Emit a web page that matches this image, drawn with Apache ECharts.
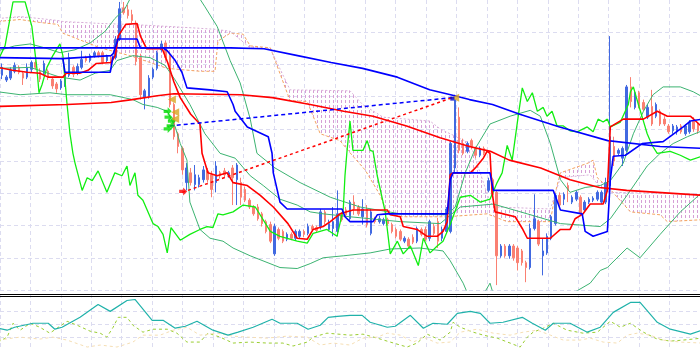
<!DOCTYPE html>
<html><head><meta charset="utf-8">
<script src="https://cdn.jsdelivr.net/npm/echarts@6/dist/echarts.min.js"></script>
<style>html,body{margin:0;padding:0;background:#fff}#c{width:700px;height:350px}</style>
</head><body><div id="c"></div><script>
// OHLC per bar: [open, close, lowest, highest]
const ohlc = [
[220,228,216,232],[215,218,213,220],[217,225,215,228],[224,230,222,233],[228,223,221,230],
[222,217,210,224],[218,228,216,232],[226,233,223,235],[233,228,226,235],[224,216,213,227],
[222,232,220,235],[224,218,215,226],[216,209,206,218],[211,206,202,213],[207,214,205,216],
[210,220,208,223],[220,238,218,243],[228,221,218,230],[222,229,220,232],[228,236,226,245],
[238,235,233,240],[235,240,233,242],[240,243,238,245],[243,240,238,245],[243,233,231,245],
[235,239,233,241],[238,232,230,240],[238,257,236,260],[257,288,255,295],[289,284,282,295],
[287,281,278,292],[282,276,273,287],[273,234,230,276],[238,200,195,242],[197,204,185,206],
[198,217,196,220],[218,226,216,228],[227,243,225,245],[246,252,244,255],[253,238,235,255],
[240,190,187,242],[190,157,154,192],[160,147,140,162],[145,123,118,147],[110,125,102,130],
[120,110,107,125],[108,118,102,128],[108,115,105,118],[113,123,110,127],[122,113,110,125],
[118,103,95,122],[110,127,100,132],[120,117,114,122],[122,118,115,125],[118,120,115,122],
[125,115,87,128],[113,128,87,130],[110,95,87,115],[103,92,90,106],[92,85,83,94],
[85,78,76,87],[85,73,71,88],[78,68,65,80],[70,60,58,72],[67,50,48,70],
[37,65,35,68],[62,53,51,64],[60,50,48,62],[52,57,50,59],[57,53,51,59],
[53,60,51,62],[55,60,53,62],[60,57,54,62],[58,65,56,68],[65,62,60,67],
[64,61,59,66],[65,80,62,83],[80,70,67,82],[62,68,60,72],[63,70,55,85],
[60,78,55,102],[78,72,70,80],[82,77,74,85],[73,90,71,92],[90,83,77,97],
[85,78,76,87],[75,83,67,93],[83,67,64,87],[58,80,56,83],[73,70,68,75],
[70,73,68,76],[68,72,66,74],[72,68,66,74],[67,60,58,69],[62,55,53,64],
[60,52,50,62],[50,53,48,55],[52,45,43,54],[54,49,47,57],[50,63,48,65],
[62,57,55,64],[62,52,50,65],[53,70,50,72],[65,58,56,68],[70,50,43,74],
[53,62,50,65],[60,83,58,85],[60,150,58,152],[125,195,120,200],[177,143,140,187],
[150,140,138,155],[142,150,140,152],[153,147,144,155],[145,138,135,147],[138,145,136,147],
[145,140,138,147],[102,112,100,115],[113,98,95,115],[100,35,5,102],[35,45,33,47],
[45,35,33,47],[35,45,32,47],[45,33,30,47],[43,28,20,45],[40,28,25,42],
[28,23,8,30],[23,63,21,68],[63,73,61,98],[70,47,45,72],[35,40,15,53],
[38,55,36,58],[53,75,51,77],[68,97,66,99],[97,87,85,100],[93,98,87,100],
[107,102,90,110],[90,95,88,97],[93,100,91,102],[95,78,76,97],[82,90,80,92],
[90,93,88,95],[92,94,90,96],[93,100,91,102],[90,100,88,102],[90,110,88,115],
[107,157,104,260],[147,132,127,157],[140,143,138,145],[135,145,127,147],[143,208,141,210],
[208,193,187,218],[187,202,185,204],[202,188,186,204],[192,185,183,195],[177,187,175,190],
[188,170,168,205],[178,190,176,192],[183,170,168,185],[175,170,168,178],[168,162,160,170],
[163,168,160,170],[162,167,159,169],[168,162,160,170],[160,168,158,170],[162,172,160,174],
[173,165,162,177],[170,163,160,172]
];
const bars = ohlc.map((d, i) => String(i));

// indicator lines: [bar index, value]
const maBlue = [[-1,248],[30.5,248],[54.5,248],[62.5,247],[70.5,240],[78.5,233],[86,227],[94.3,218],[102,205],[107,200],[111.5,195],[117,190],[123.5,180],[133,167],[144.5,153],[157,147],[167,145]];
const maRed = [[-1,188],[15.5,190],[26,192],[31,195],[37,199],[41,201],[57,200],[64.5,197],[73.5,190],[81.5,183],[88.5,178],[96.5,168],[104.5,156],[111.5,147],[116.5,142],[121,133],[128.5,125],[135.5,113],[142.5,105],[149,102],[167,97]];
const tenkan = [[-1,228],[2.5,225],[6,223],[9,222],[11,218],[14.5,218],[15.3,222],[18.5,222],[20.5,225],[22.5,232],[26,233],[27,240],[27.7,260],[29.5,272],[32.2,273],[33,260],[34.5,247],[38.2,247],[39.5,233],[41,213],[42.5,197],[45,180],[47.2,170],[47.7,140],[49.1,120],[51.3,117],[53.7,120],[55.1,110],[58.5,107],[61.6,97],[64.7,85],[68.2,68],[70.4,53],[72.8,52],[74.2,62],[76.6,65],[78.3,70],[80.6,78],[83.7,82],[91.9,82],[92.6,77],[95,75],[95.7,65],[99,62],[101.4,55],[103.8,55],[105.2,60],[106.2,70],[106.9,118],[107.6,120],[111.7,120],[112.9,125],[114.8,135],[115.7,142],[116.4,140],[116.9,100],[117.6,80],[122.4,75],[124.1,63],[125.3,53],[130.8,53],[133.2,62],[135.5,62],[136.7,73],[138.6,78],[140.3,88],[143.4,88],[144.4,102],[145.1,167],[148.2,175],[153,175],[156.3,183],[158.7,178],[164.2,178],[167,167]];
const kijun = [[-1,238],[14.3,237],[26,240],[26.5,242],[27.7,257],[32.2,257],[33,248],[38.4,248],[39.4,245],[41.3,235],[42.9,223],[44.1,207],[49.6,205],[53.7,203],[55.1,190],[55.6,183],[58.5,167],[63.5,157],[64.4,140],[64.7,120],[66.3,90],[68,83],[81.1,83],[81.8,75],[83,70],[88.5,70],[89.5,77],[91.9,78],[106.2,78],[106.9,113],[107.6,120],[116.4,120],[117.2,102],[131.5,102],[133.2,82],[138.4,78],[139.1,60],[141,55],[144.4,60],[145.1,113],[145.8,137],[148.7,138],[152.7,150],[157.7,152],[162.5,167],[164.2,173],[167,175]];
const kijunLow = [[14.5,237],[15,223],[25.8,223],[26.5,240]];
const bbUpper = [[-1,245],[3,250],[6.7,252],[10.2,248],[13.8,243],[17.4,246],[21,253],[24.6,265],[26.9,278],[29.3,288],[30.5,298],[47.2,298],[48.4,290],[51.3,270],[54.4,235],[56.8,212],[59.2,175],[60.8,140],[65.1,125],[71.1,110],[78.3,95],[85.4,85],[95,78],[106.2,77],[108.1,85],[110.5,120],[112.9,145],[116.4,170],[121.2,178],[126,184],[128.4,178],[130.8,150],[133.2,113],[135.5,100],[139.1,105],[142.7,107],[145.1,112],[148.2,130],[150.6,160],[153,183],[155.3,200],[157.7,208],[161.8,208],[164.9,203],[167,198]];
const bbMiddle = [[-1,227],[6.7,228],[13.8,218],[18.6,215],[22.2,222],[25.8,225],[27.4,235],[31.2,240],[35.3,238],[38.9,230],[41.3,215],[44.8,190],[48.4,160],[52,140],[55.6,135],[59.2,117],[62.3,107],[66.3,93],[70.4,87],[73.5,80],[76.6,78],[83,75],[95,70],[104.5,68],[109.3,85],[117.2,88],[125.3,78],[133.2,68],[142.7,65],[145.1,73],[149.1,97],[153.9,127],[157,140],[160.1,150],[163.5,157],[167,163]];
const bbLower = [[-1,203],[4.3,200],[11.4,202],[15.5,200],[25.8,200],[31.2,195],[33.6,190],[37,187],[39.4,183],[41.3,167],[42.5,150],[44.1,133],[44.8,90],[47.2,62],[49.6,53],[52.7,50],[55.1,43],[59.2,35],[66.3,23],[70.4,22],[73.5,27],[76.6,33],[81.4,35],[87.8,38],[92.6,42],[99.7,43],[105.2,40],[106.9,30],[110,7],[111.7,-10],[114.1,-10],[116.4,7],[117.6,-10],[133.2,-10],[136.3,-3],[140.3,7],[142.7,20],[144.4,23],[149.1,43],[152.2,33],[157,57],[161.8,80],[167,100]];
const chikou = [[-1,235],[0.7,250],[2.6,295],[5.5,295],[7.1,270],[8.3,227],[8.8,202],[9.5,210],[10.7,228],[12.1,240],[13.8,252],[14.5,240],[15.5,190],[16.2,160],[16.9,140],[17.4,130],[19.1,102],[20.3,115],[21.5,112],[22.9,122],[25,100],[26.9,120],[28.6,117],[29.8,127],[30.5,107],[31.7,120],[32.4,97],[33.6,92],[36,68],[37.2,65],[38.4,57],[39.4,38],[40.3,64],[42.5,51],[44.8,57],[47.2,62],[48.9,65],[50.3,64],[51.5,78],[52.7,77],[55.1,80],[57.5,87],[60.4,85],[64,60],[66.3,55],[70.4,50],[72.8,48],[74.2,58],[77.5,62],[79.9,55],[81.4,83],[81.8,117],[82.3,143],[83,173],[83.7,143],[86.1,143],[87.1,153],[87.8,143],[88.5,142],[89.5,117],[91.4,80],[92.6,37],[94.3,50],[95.7,37],[97.4,45],[99.3,25],[100.5,53],[102.1,38],[103.8,45],[105.2,50],[106.9,67],[109.3,95],[111.7,97],[114.1,90],[116.4,93],[118.1,110],[119.3,120],[120.5,148],[121.7,133],[123.1,177],[124.1,207],[125.3,193],[126.5,202],[127.7,183],[129.1,187],[130,178],[131.2,183],[132.4,168],[133.9,168],[135.5,163],[137.2,162],[139.6,167],[141,162],[142.2,175],[143.4,172],[144.4,175],[145.1,167],[147.5,172],[149.4,190],[149.9,203],[150.6,208],[151.8,190],[153,173],[153.9,160],[155.1,148],[156.3,140],[159.4,142],[161.8,138],[164.2,133],[167,137]];
const spanA = [[-1,275],[4.3,277],[9,274],[13.3,272],[14.5,263],[23.4,248],[30.5,240],[39.4,227],[47.2,224],[50.8,224],[51.5,255],[54.4,263],[57.5,262],[59.2,250],[64,248],[68.7,194],[72.8,193],[75.9,160],[80.6,153],[83.7,137],[86.6,123],[90.2,97],[91.9,78],[95.7,75],[106.2,75],[115.7,78],[120.5,70],[130.8,70],[132,100],[133.2,120],[139.8,130],[141,133],[142,115],[145.1,103],[149.9,80],[157,77],[158.7,70],[167,72]];
const spanB = [[-1,278],[4.3,280],[9,278],[13.3,276],[14.5,275],[23.4,273],[30.5,272],[39.4,270],[47.2,268],[50.8,267],[54.4,265],[59.2,248],[64,247],[68.7,205],[83,204],[86,190],[90.9,177],[102.1,173],[104.5,165],[106.9,160],[111.7,150],[116.4,90],[117.6,85],[130.8,83],[133.2,115],[140.3,118],[142.7,105],[145.1,100],[167,98]];
const trendBlue = [[40,168],[107.4,197]];
const trendRed = [[43,100],[107.4,197]];
const arrowsGreen = [[39.5,183],[39.7,177],[40.5,173],[39.5,165],[40.2,168]];
const trianglesGold = [[40.5,195],[41.3,182],[41.3,175],[108.1,197]];
const markRed = [[43.2,101]];
const markBlue = [[107.4,196]];
// lower pane
const adx = [[-1,22],[1.2,20],[3,23],[7.4,27],[11,27],[12.6,21],[14.3,23],[18.6,33],[22.9,46],[25.8,39],[29.8,50],[31.7,51],[35.8,30],[38.4,30],[41.3,22],[43.7,24],[46.5,29],[50.3,20],[53.9,15],[56.3,18],[59.9,23],[64.4,31],[66.3,27],[70.4,27],[73,21],[75.9,25],[77.8,33],[80,34],[83,35],[85.9,35],[87.8,28],[91.9,23],[93.8,24],[97.4,35],[100.5,22],[102.8,27],[106.2,26],[108.6,37],[111.7,39],[114.1,37],[116.4,27],[119.5,28],[124.1,33],[126.5,27],[129.6,20],[131.5,27],[135.5,27],[139.6,18],[142.7,23],[145.8,38],[149.9,48],[152.2,48],[156.3,28],[159.4,21],[164.2,16],[167,20]];
const plusDI = [[-1,8],[1.2,13],[2.6,27],[4.3,20],[6.7,27],[9,23],[11.4,17],[13.1,22],[15.5,29],[17.9,25],[21,19],[23.4,17],[25,13],[26.5,23],[27.7,33],[29.8,33],[31.2,25],[33.6,18],[36,21],[39.4,21],[41.7,17],[44.1,8],[47.2,8],[49.1,17],[52,13],[55.1,7],[59.2,8],[63.2,7],[67,7],[69.4,4],[72.8,8],[74.2,13],[77.5,17],[83,15],[86.1,16],[89.5,12],[92.6,8],[96.6,3],[99,7],[101.4,16],[104.5,10],[106.9,18],[107.6,28],[109.3,23],[112.4,18],[114.8,15],[118.1,12],[121.2,7],[123.6,3],[125.3,13],[126.7,18],[129.1,22],[131.5,27],[134.8,20],[138.6,17],[142,18],[145.1,29],[147.5,23],[149.9,27],[153,18],[156.3,11],[159.4,9],[162.5,10],[167,12]];
const minusDI = [[-1,10],[4.3,13],[9,11],[12.1,13],[15.5,10],[20.3,3],[23.4,5],[27.4,3],[31.2,8],[33.6,15],[37.7,15],[40.8,20],[44.1,23],[47.2,15],[51.3,17],[55.1,14],[58.5,13],[63.2,12],[68,14],[72.8,13],[75.9,5],[79,7],[83,5],[86.1,12],[89.5,13],[91.9,17],[95,15],[98.1,8],[100.5,13],[103.8,7],[106.9,8],[109.3,18],[113.3,21],[117.2,17],[121.2,15],[124.3,18],[127.7,20],[130.8,15],[133.9,10],[137.9,10],[140.3,12],[143.4,8],[146.8,7],[149.1,15],[151.5,17],[154.6,15],[157.7,10],[161.8,8],[167,7]];

const gridLine = {show:true, lineStyle:{color:'#dcdcf0', type:[4,3], width:1}};
const hidden = {axisLine:{show:false}, axisTick:{show:false}, axisLabel:{show:false}};
function line(name, data, color, width, type, xi, yi, z) {
  return {type:'line', name, data, xAxisIndex:xi, yAxisIndex:yi, showSymbol:false, symbol:'none',
    lineStyle:{color, width, type}, z, silent:true, animation:false};
}

const chart = echarts.init(document.getElementById('c'), null, {renderer:'canvas'});
chart.setOption({
  animation:false,
  backgroundColor:'#ffffff',
  grid:[
    {left:0, right:0, top:-8, height:298},
    {left:0, right:0, top:298.5, height:52},
    {left:-9.5, width:736, top:0, height:350}
  ],
  xAxis:[
    {gridIndex:0, type:'category', data:bars, show:false, boundaryGap:true},
    {gridIndex:0, type:'value', min:-0.5, max:166.5, show:false},
    {gridIndex:1, type:'value', min:-0.5, max:166.5, show:false},
    Object.assign({gridIndex:2, type:'value', min:0, max:736, interval:32, splitLine:gridLine}, hidden)
  ],
  yAxis:[
    Object.assign({gridIndex:0, type:'value', min:0, max:297, interval:33, splitLine:Object.assign({showMaxLine:false}, gridLine)}, hidden),
    Object.assign({gridIndex:1, type:'value', min:0, max:52, interval:13, splitLine:Object.assign({showMaxLine:false}, gridLine)}, hidden),
    {gridIndex:2, type:'value', min:0, max:1, show:false}
  ],
  graphic:[
    {type:'rect', shape:{x:0, y:294, width:700, height:1}, style:{fill:'#000'}, z:100},
    {type:'rect', shape:{x:0, y:296, width:700, height:1}, style:{fill:'#000'}, z:100}
  ],
  series:[
    // Ichimoku cloud: vertical dashed hatch clipped to the area between the two spans
    {type:'custom', xAxisIndex:1, yAxisIndex:0, z:1, silent:true, data:[[0,0]],
      renderItem:function(params, api){
        const pts = spanA.map(p => api.coord(p)).concat(spanB.slice().reverse().map(p => api.coord(p)));
        const cs = params.coordSys;
        const children = [];
        for (let x = Math.floor(cs.x) + 1.5; x < cs.x + cs.width; x += 4) {
          children.push({type:'line', shape:{x1:x, y1:Math.max(cs.y, 0), x2:x, y2:cs.y + cs.height},
            style:{stroke:'#d69fd6', lineWidth:1, lineDash:[3,2]}});
        }
        return {type:'group', children, clipPath:{type:'polygon', shape:{points:pts}}};
      }},
    line('spanA', spanA, '#f4a460', 1, [3,2], 1, 0, 2),
    line('spanB', spanB, '#d8b0d8', 1, [2,2], 1, 0, 2),
    {type:'candlestick', xAxisIndex:0, yAxisIndex:0, data:ohlc, barWidth:2, z:3, silent:true,
      itemStyle:{color:'#4169e1', color0:'#fa8072', borderColor:'#4169e1', borderColor0:'#fa8072', borderWidth:1}},
    line('bbUpper', bbUpper, '#3cb371', 1, 'solid', 1, 0, 4),
    line('bbMiddle', bbMiddle, '#3cb371', 1, 'solid', 1, 0, 4),
    line('bbLower', bbLower, '#3cb371', 1, 'solid', 1, 0, 4),
    line('chikou', chikou, '#11ee11', 1.3, 'solid', 1, 0, 4),
    line('maRed', maRed, '#ff0000', 1.6, 'solid', 1, 0, 5),
    line('maBlue', maBlue, '#0000ff', 1.6, 'solid', 1, 0, 5),
    line('tenkan', tenkan, '#ff0000', 1.6, 'solid', 1, 0, 5),
    line('kijun', kijun, '#0000ff', 1.6, 'solid', 1, 0, 6),
    line('kijunLow', kijunLow, '#0000ff', 1.6, 'solid', 1, 0, 6),
    line('trendBlue', trendBlue, '#0000ff', 1.5, [4,3], 1, 0, 6),
    line('trendRed', trendRed, '#ff0000', 1.5, [3,3], 1, 0, 6),
    {type:'scatter', xAxisIndex:1, yAxisIndex:0, data:arrowsGreen, z:7, silent:true,
      symbol:'path://M0,3H5V0L10,5L5,10V7H0Z', symbolSize:8, itemStyle:{color:'#00dd00'}},
    {type:'scatter', xAxisIndex:1, yAxisIndex:0, data:trianglesGold, z:7, silent:true,
      symbol:'triangle', symbolRotate:90, symbolSize:8, itemStyle:{color:'#daa520'}},
    {type:'scatter', xAxisIndex:1, yAxisIndex:0, data:markRed, z:7, silent:true,
      symbol:'path://M0,3H5V0L10,5L5,10V7H0Z', symbolSize:8, itemStyle:{color:'#ff0000'}},
    {type:'scatter', xAxisIndex:1, yAxisIndex:0, data:markBlue, z:7, silent:true,
      symbol:'rect', symbolSize:4, itemStyle:{color:'#0000cd'}},
    line('adx', adx, '#20b2aa', 1.2, 'solid', 2, 1, 4),
    line('plusDI', plusDI, '#9acd32', 1, [3,3], 2, 1, 3),
    line('minusDI', minusDI, '#f5deb3', 1, [3,3], 2, 1, 3)
  ]
});
</script></body></html>
